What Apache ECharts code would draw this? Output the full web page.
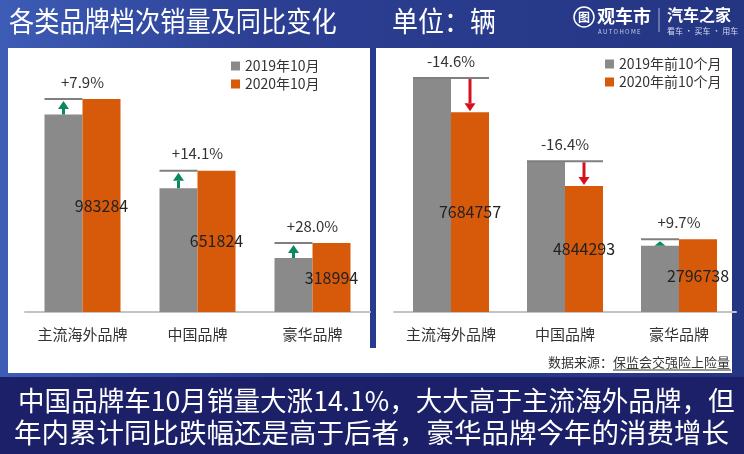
<!DOCTYPE html>
<html>
<head>
<meta charset="utf-8">
<script src="https://cdn.jsdelivr.net/npm/echarts@6/dist/echarts.min.js"></script>
<style>
html,body{margin:0;padding:0;background:#26388a;}
#c{width:744px;height:454px;}
</style>
</head>
<body>
<div id="c"></div>
<script>
const cats = ['主流海外品牌', '中国品牌', '豪华品牌'];
const oct2019 = [911293, 571274, 249214];
const oct2020 = [983284, 651824, 318994];
const octPct = ['+7.9%', '+14.1%', '+28.0%'];
const ytd2019 = [8998544, 5794609, 2549442];
const ytd2020 = [7684757, 4844293, 2796738];
const ytdPct = ['-14.6%', '-16.4%', '+9.7%'];
const leftLegend = ['2019年10月', '2020年10月'];
const rightLegend = ['2019年前10个月', '2020年前10个月'];
const titleMain = '各类品牌档次销量及同比变化';
const titleUnit = '单位：辆';
const sourceText = '数据来源：保监会交强险上险量';
const bottomLines = ['中国品牌车10月销量大涨14.1%，大大高于主流海外品牌，但', '年内累计同比跌幅还是高于后者，豪华品牌今年的消费增长'];

const GRAY = '#8a8a8a', ORANGE = '#d75a0b', GREEN = '#0b8a5e', RED = '#d4121c';
const FONT = '"Noto Sans CJK SC", "Noto Sans", sans-serif';
const BW = 38;

function makeAnno(v19, v20, pct) {
  return function (params, api) {
    const i = params.dataIndex;
    const x = api.coord([i, 0])[0];
    const y19 = api.coord([i, v19[i]])[1];
    const y20 = api.coord([i, v20[i]])[1];
    const up = v20[i] >= v19[i];
    const children = [];
    const lineStyle = { stroke: '#7f7f7f', lineWidth: 2 };
    let ax, yStart, yTip, col;
    if (up) {
      children.push({ type: 'line', shape: { x1: x - BW, y1: y20, x2: x, y2: y20 }, style: lineStyle });
      ax = x - BW / 2; yStart = y19; yTip = y20 + 2; col = GREEN;
    } else {
      children.push({ type: 'line', shape: { x1: x - BW, y1: y19, x2: x + BW, y2: y19 }, style: lineStyle });
      ax = x + BW / 2; yStart = y19 + 1; yTip = y20 - 1; col = RED;
    }
    const dir = yTip < yStart ? -1 : 1;
    const headLen = Math.min(8, Math.abs(yTip - yStart));
    const baseY = yTip - dir * headLen;
    if (Math.abs(baseY - yStart) > 0.5) {
      children.push({ type: 'line', shape: { x1: ax, y1: yStart, x2: ax, y2: baseY }, style: { stroke: col, lineWidth: 3 } });
    }
    children.push({ type: 'polygon', shape: { points: [[ax - 5.5, baseY], [ax + 5.5, baseY], [ax, yTip]] }, style: { fill: col } });
    const topY = Math.min(y19, y20);
    children.push({ type: 'text', style: { text: pct[i], x: x, y: topY - 17, align: 'center', verticalAlign: 'middle', textAlign: 'center', textVerticalAlign: 'middle', fontSize: 15, fontFamily: FONT, fill: '#333' } });
    return { type: 'group', children: children };
  };
}

const chart = echarts.init(document.getElementById('c'));
const xAxisBase = {
  type: 'category', data: cats,
  axisLine: { lineStyle: { color: '#c4c4c4', width: 2 } },
  axisTick: { show: false },
  axisLabel: { interval: 0, fontSize: 15, color: '#333', margin: 15, fontFamily: FONT }
};
const labelBase = { show: true, position: 'inside', fontSize: 16, color: '#222', fontFamily: FONT };

chart.setOption({
  animation: false,
  backgroundColor: {
    type: 'linear', x: 0, y: 0, x2: 1, y2: 0,
    colorStops: [{ offset: 0, color: '#3d5cb6' }, { offset: 0.35, color: '#2c3f93' }, { offset: 1, color: '#243582' }]
  },
  textStyle: { fontFamily: FONT },
  graphic: [
    { type: 'rect', z: -10, shape: { x: 8, y: 48, width: 724, height: 325 }, style: { fill: '#ffffff' } },
    { type: 'rect', z: -9, shape: { x: 370, y: 48, width: 6, height: 300 }, style: { fill: '#283a8c' } },
    { type: 'rect', z: -10, shape: { x: 0, y: 377, width: 744, height: 77 }, style: { fill: '#1b2068' } },
    { type: 'text', z: 10, x: 9, y: 21, scaleX: 0.9, style: { text: titleMain, x: 0, y: 0, fontSize: 28, fontFamily: FONT, fill: '#ffffff', verticalAlign: 'middle', textVerticalAlign: 'middle' } },
    { type: 'text', z: 10, x: 392, y: 21, scaleX: 0.93, style: { text: titleUnit, x: 0, y: 0, fontSize: 28, fontFamily: FONT, fill: '#ffffff', verticalAlign: 'middle', textVerticalAlign: 'middle' } },
    { type: 'circle', z: 10, shape: { cx: 584, cy: 17, r: 10 }, style: { fill: 'none', stroke: '#ffffff', lineWidth: 1.5 } },
    { type: 'text', z: 10, style: { text: '图', x: 584, y: 17, fontSize: 12, fontFamily: FONT, fontWeight: 'bold', fill: '#ffffff', align: 'center', verticalAlign: 'middle', textAlign: 'center', textVerticalAlign: 'middle' } },
    { type: 'text', z: 10, style: { text: '观车市', x: 597, y: 16, fontSize: 18, fontFamily: FONT, fontWeight: 'bold', fill: '#ffffff', verticalAlign: 'middle', textVerticalAlign: 'middle' } },
    { type: 'text', z: 10, style: { text: 'A U T O H O M E', x: 598, y: 32, fontSize: 6, fontFamily: FONT, fill: '#c8cde8', verticalAlign: 'middle', textVerticalAlign: 'middle' } },
    { type: 'line', z: 10, shape: { x1: 659, y1: 8, x2: 659, y2: 32 }, style: { stroke: 'rgba(255,255,255,0.6)', lineWidth: 1 } },
    { type: 'text', z: 10, style: { text: '汽车之家', x: 667, y: 15, fontSize: 16, fontFamily: FONT, fontWeight: 'bold', fill: '#ffffff', verticalAlign: 'middle', textVerticalAlign: 'middle' } },
    { type: 'text', z: 10, style: { text: '看车 · 买车 · 用车', x: 667, y: 31, fontSize: 8, fontFamily: FONT, fill: '#d8dcf0', verticalAlign: 'middle', textVerticalAlign: 'middle' } },
    { type: 'text', z: 10, style: { text: sourceText, x: 730, y: 362, fontSize: 13, fontFamily: FONT, fill: '#333', align: 'right', verticalAlign: 'middle', textAlign: 'right', textVerticalAlign: 'middle' } },
    { type: 'line', z: 10, shape: { x1: 613, y1: 370, x2: 731, y2: 370 }, style: { stroke: '#333', lineWidth: 1 } },
    { type: 'text', z: 10, x: 18, y: 401, scaleX: 0.966, style: { text: bottomLines[0], x: 0, y: 0, fontSize: 27.5, fontFamily: FONT, fill: '#ffffff', verticalAlign: 'middle', textVerticalAlign: 'middle' } },
    { type: 'text', z: 10, x: 14, y: 433, style: { text: bottomLines[1], x: 0, y: 0, fontSize: 27.5, fontFamily: FONT, fill: '#ffffff', verticalAlign: 'middle', textVerticalAlign: 'middle' } }
  ],
  legend: [
    { data: leftLegend, orient: 'vertical', left: 226, top: 54, itemWidth: 9, itemHeight: 9, itemGap: 4, icon: 'rect', textStyle: { fontSize: 14, color: '#333', fontFamily: FONT } },
    { data: rightLegend, orient: 'vertical', left: 600, top: 52, itemWidth: 9, itemHeight: 9, itemGap: 4, icon: 'rect', textStyle: { fontSize: 14, color: '#333', fontFamily: FONT } }
  ],
  grid: [
    { left: 25, top: 52, width: 345, height: 260 },
    { left: 394, top: 52, width: 342, height: 260 }
  ],
  xAxis: [
    Object.assign({ gridIndex: 0 }, xAxisBase),
    Object.assign({ gridIndex: 1 }, xAxisBase)
  ],
  yAxis: [
    { gridIndex: 0, type: 'value', min: 0, max: 1200000, show: false, splitLine: { show: false } },
    { gridIndex: 1, type: 'value', min: 0, max: 10000000, show: false, splitLine: { show: false } }
  ],
  series: [
    { name: leftLegend[0], type: 'bar', xAxisIndex: 0, yAxisIndex: 0, data: oct2019, barWidth: BW, barGap: '0%', itemStyle: { color: GRAY } },
    { name: leftLegend[1], type: 'bar', xAxisIndex: 0, yAxisIndex: 0, data: oct2020, barWidth: BW, barGap: '0%', itemStyle: { color: ORANGE }, label: labelBase, z: 3 },
    { name: rightLegend[0], type: 'bar', xAxisIndex: 1, yAxisIndex: 1, data: ytd2019, barWidth: BW, barGap: '0%', itemStyle: { color: GRAY } },
    { name: rightLegend[1], type: 'bar', xAxisIndex: 1, yAxisIndex: 1, data: ytd2020, barWidth: BW, barGap: '0%', itemStyle: { color: ORANGE }, label: labelBase, z: 3 },
    { type: 'custom', xAxisIndex: 0, yAxisIndex: 0, z: 5, clip: false, data: cats.map((c, i) => [i, oct2019[i], oct2020[i]]), encode: { x: 0, y: [1, 2] }, renderItem: makeAnno(oct2019, oct2020, octPct), silent: true },
    { type: 'custom', xAxisIndex: 1, yAxisIndex: 1, z: 5, clip: false, data: cats.map((c, i) => [i, ytd2019[i], ytd2020[i]]), encode: { x: 0, y: [1, 2] }, renderItem: makeAnno(ytd2019, ytd2020, ytdPct), silent: true }
  ]
});
</script>
</body>
</html>
